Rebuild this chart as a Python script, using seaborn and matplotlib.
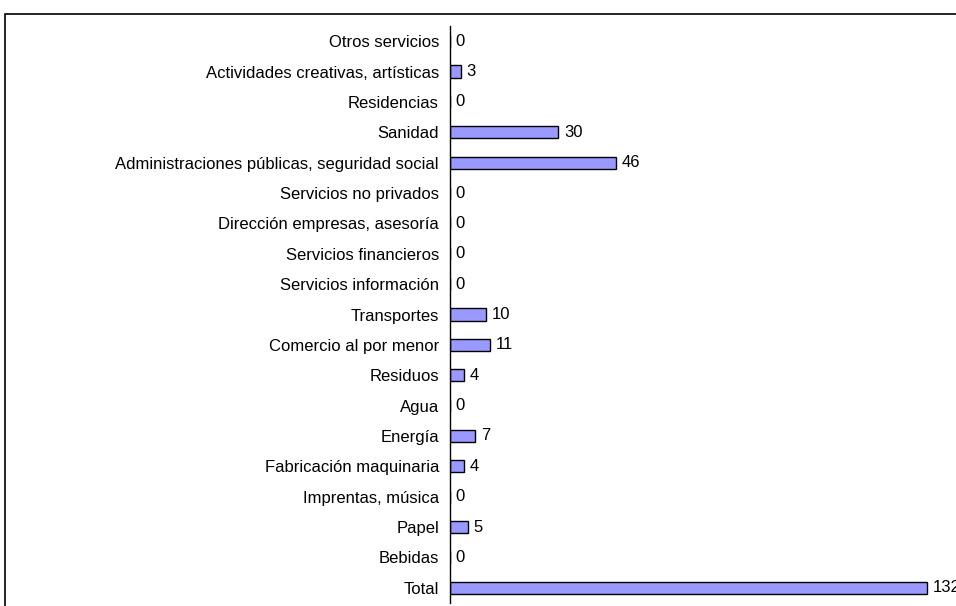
import numpy as np
import pandas as pd
import matplotlib.pyplot as plt
from matplotlib.patches import Rectangle
import seaborn as sns

categories = [
    "Otros servicios",
    "Actividades creativas, artísticas",
    "Residencias",
    "Sanidad",
    "Administraciones públicas, seguridad social",
    "Servicios no privados",
    "Dirección empresas, asesoría",
    "Servicios financieros",
    "Servicios información",
    "Transportes",
    "Comercio al por menor",
    "Residuos",
    "Agua",
    "Energía",
    "Fabricación maquinaria",
    "Imprentas, música",
    "Papel",
    "Bebidas",
    "Total",
]
values = [0, 3, 0, 30, 46, 0, 0, 0, 0, 10, 11, 4, 0, 7, 4, 0, 5, 0, 132]

df = pd.DataFrame({"sector": categories, "n": values})

sns.set_style("white")
plt.rcParams['font.family'] = ['Liberation Sans', 'DejaVu Sans']

W, H = 956, 606
fig = plt.figure(figsize=(W / 100, H / 100), dpi=100)

# outer chart frame (clipped on right and bottom like the original)
fig.patches.append(Rectangle((5 / W, -0.1), 1.1, 1 - 14 / H + 0.1,
                             transform=fig.transFigure, fill=False,
                             edgecolor='black', linewidth=1.2))

ax = fig.add_axes([450 / W, 3 / H, 560 / W, (603 - 26) / H])
sns.barplot(data=df, y="sector", x="n", orient="h", ax=ax,
            color="#9999FF", edgecolor="black", linewidth=1.0,
            width=0.4, saturation=1)

ax.set_xlim(0, 155)
ax.set_ylim(len(categories) - 0.5, -0.5)
ax.set_xlabel("")
ax.set_ylabel("")
ax.set_xticks([])

for s in ["top", "right", "bottom"]:
    ax.spines[s].set_visible(False)
ax.spines["left"].set_linewidth(1.0)
ax.spines["left"].set_color("black")

ax.tick_params(axis="y", which="major", length=0, pad=8, labelsize=12,
               labelcolor="black")
ax.set_yticks(np.arange(len(categories) + 1) - 0.5, minor=True)
ax.tick_params(axis="y", which="minor", length=5, width=1.0, color="black", direction="out")

for c in ax.containers:
    ax.bar_label(c, labels=[str(v) for v in values], padding=4, fontsize=12,
                 color="black")

fig.savefig("out.png", dpi=100)
